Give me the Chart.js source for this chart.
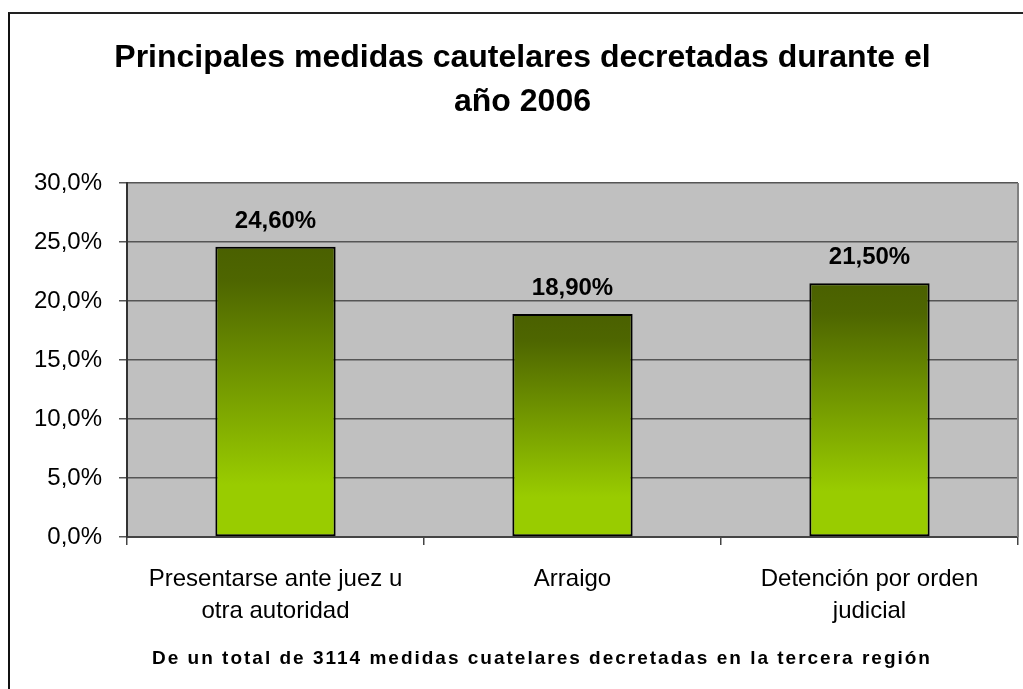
<!DOCTYPE html>
<html>
<head>
<meta charset="utf-8">
<script src="https://cdn.jsdelivr.net/npm/chart.js@4"></script>
<style>
  html, body { margin: 0; padding: 0; background: #fff; overflow: hidden; width: 1023px; height: 689px; }
  #frame { position: absolute; left: 8px; top: 12px; width: 1100px; height: 800px;
           border-left: 2px solid #111; border-top: 2px solid #222; }
  #c { position: absolute; left: 10px; top: 14px; }
</style>
</head>
<body>
<div id="frame"></div>
<canvas id="c" width="1025" height="675"></canvas>
<script>
  const categories = [["Presentarse ante juez u", "otra autoridad"], "Arraigo", ["Detención por orden", "judicial"]];
  const values = [24.6, 18.9, 21.5];
  const tickValues = [0, 5, 10, 15, 20, 25, 30];
  const titleLines = ["Principales medidas cautelares decretadas durante el", "año 2006"];
  const footnote = "De un total de 3114 medidas cuatelares decretadas en la tercera región";

  const FONT = '"Liberation Sans", Arial, sans-serif';

  function barGradient(ctx) {
    const chart = ctx.chart;
    if (!chart.chartArea || ctx.type !== "data") return "#99cc00";
    const y = chart.scales.y;
    const top = y.getPixelForValue(ctx.raw);
    const bottom = y.getPixelForValue(0);
    const g = chart.ctx.createLinearGradient(0, top, 0, bottom);
    g.addColorStop(0, "#4a6000");
    g.addColorStop(0.12, "#4e6600");
    g.addColorStop(0.82, "#99cc00");
    g.addColorStop(1, "#99cc00");
    return g;
  }

  // gray plot background + right border
  const plotBg = {
    id: "plotBg",
    beforeDraw(chart) {
      const { ctx, chartArea: a } = chart;
      ctx.save();
      ctx.fillStyle = "#c0c0c0";
      ctx.fillRect(a.left, a.top, a.right - a.left, a.bottom - a.top);
      ctx.restore();
    },
    afterDraw(chart) {
      const { ctx, chartArea: a } = chart;
      ctx.save();
      ctx.strokeStyle = "#808080";
      ctx.lineWidth = 2;
      ctx.beginPath();
      ctx.moveTo(a.right, a.top);
      ctx.lineTo(a.right, a.bottom);
      ctx.stroke();
      ctx.restore();
    }
  };

  // value labels above bars
  const valueLabels = {
    id: "valueLabels",
    afterDatasetsDraw(chart) {
      const ctx = chart.ctx;
      const meta = chart.getDatasetMeta(0);
      ctx.save();
      ctx.font = "bold 24px " + FONT;
      ctx.fillStyle = "#000";
      ctx.textAlign = "center";
      ctx.textBaseline = "alphabetic";
      meta.data.forEach((bar, i) => {
        const txt = values[i].toFixed(2).replace(".", ",") + "%";
        ctx.fillText(txt, bar.x, bar.y - 19);
      });
      ctx.restore();
    }
  };

  // note under the axis labels
  const footNote = {
    id: "footNote",
    afterDraw(chart) {
      const ctx = chart.ctx;
      ctx.save();
      ctx.font = "bold 19px " + FONT;
      ctx.fillStyle = "#000";
      ctx.letterSpacing = "2px";
      ctx.textAlign = "center";
      ctx.textBaseline = "alphabetic";
      ctx.fillText(footnote, 532, 650);
      ctx.restore();
    }
  };

  new Chart(document.getElementById("c"), {
    type: "bar",
    data: {
      labels: categories,
      datasets: [{
        data: values,
        backgroundColor: barGradient,
        borderColor: "#000",
        borderWidth: 2,
        borderSkipped: false,
        categoryPercentage: 1,
        barPercentage: 0.405
      }]
    },
    options: {
      responsive: false,
      animation: false,
      layout: { padding: { left: 17, right: 17, top: 0, bottom: 0 } },
      plugins: {
        legend: { display: false },
        tooltip: { enabled: false },
        title: {
          display: true,
          text: titleLines,
          color: "#000",
          font: { family: FONT, size: 32, weight: "bold", lineHeight: 1.375 },
          padding: { top: 22, bottom: 59 }
        }
      },
      scales: {
        x: {
          grid: { drawOnChartArea: false, color: "#444", tickLength: 8, lineWidth: 1.5 },
          border: { color: "#444", width: 2 },
          ticks: {
            color: "#000",
            font: { family: FONT, size: 24, lineHeight: 1.35 },
            padding: 18,
            maxRotation: 0,
            autoSkip: false
          },
          afterFit(s) { s.height = 152; }
        },
        y: {
          min: 0,
          max: 30,
          afterBuildTicks(s) { s.ticks = tickValues.map(v => ({ value: v })); },
          grid: { color: "#555", tickLength: 8, lineWidth: 1.5 },
          border: { color: "#333", width: 2 },
          ticks: {
            color: "#000",
            font: { family: FONT, size: 24 },
            padding: 17,
            callback: v => v.toFixed(1).replace(".", ",") + "%"
          },
          afterFit(s) { s.width = 100; }
        }
      }
    },
    plugins: [plotBg, valueLabels, footNote]
  });
</script>
</body>
</html>
